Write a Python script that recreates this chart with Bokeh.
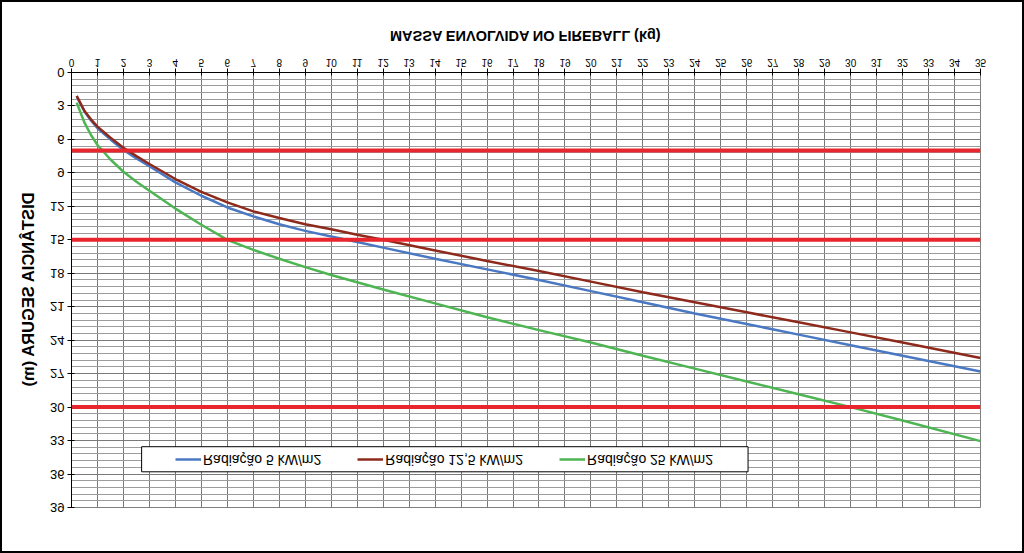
from bokeh.plotting import figure
from bokeh.models import Range1d, FixedTicker, Span, Legend, LegendItem
from bokeh.embed import file_html
from bokeh.resources import INLINE

# ---- data ----
mass = [0.2, 0.5, 0.75, 1, 1.5, 2, 2.5, 3, 4, 5, 6, 7, 8, 9, 10, 11, 12, 14, 16, 18, 20, 22, 24, 26, 28, 30, 32, 35]
dist_5 = [2.15, 3.5, 4.3, 5.0, 6.0, 6.95, 7.7, 8.4, 9.85, 11.05, 12.1, 12.9, 13.6, 14.2, 14.7, 15.2, 15.7,
          16.7, 17.65, 18.6, 19.6, 20.6, 21.6, 22.55, 23.5, 24.45, 25.4, 26.8]
dist_12_5 = [2.1, 3.45, 4.2, 4.85, 5.85, 6.75, 7.5, 8.2, 9.55, 10.7, 11.65, 12.45, 13.05, 13.6, 14.05, 14.55, 15.0,
             15.95, 16.9, 17.8, 18.75, 19.7, 20.6, 21.5, 22.4, 23.3, 24.2, 25.6]
dist_25 = [2.7, 4.5, 5.6, 6.5, 7.8, 8.9, 9.8, 10.6, 12.2, 13.65, 15.0, 15.9, 16.7, 17.45, 18.15, 18.8, 19.45,
           20.7, 21.95, 23.1, 24.2, 25.4, 26.55, 27.7, 28.85, 30.0, 31.2, 33.05]
series_names = ["Radiação 5 kW/m2", "Radiação 12,5 kW/m2", "Radiação 25 kW/m2"]
series_colors = ["#4a78c2", "#8e2a1c", "#4db552"]
limit_levels = [7, 15, 30]
x_ticks = list(range(0, 36))
y_ticks = list(range(0, 40, 3))
y_minor = [round(0.6 * i, 1) for i in range(0, 66)]
legend_box_x = [2.7, 26.05]
legend_box_y = [33.55, 35.8]

FONT = "Liberation Sans"

p = figure(width=1024, height=553, output_backend="svg", toolbar_location=None,
           x_range=Range1d(0, 35), y_range=Range1d(0, 39),
           min_border_left=69, min_border_right=46, min_border_top=43, min_border_bottom=75,
           background_fill_color="white", border_fill_color="white")

p.outline_line_color = "#7f7f7f"
p.outline_line_width = 1

# grids
p.xgrid.ticker = FixedTicker(ticks=x_ticks)
p.xgrid.grid_line_color = "#7a7a7a"
p.xgrid.grid_line_width = 1
p.ygrid.ticker = FixedTicker(ticks=y_ticks, minor_ticks=y_minor)
p.ygrid.grid_line_color = "#7a7a7a"
p.ygrid.grid_line_width = 1
p.ygrid.minor_grid_line_color = "#9c9c9c"
p.ygrid.minor_grid_line_width = 1

# axes
p.xaxis.ticker = FixedTicker(ticks=x_ticks)
p.yaxis.ticker = FixedTicker(ticks=y_ticks)
for ax in (p.xaxis[0], p.yaxis[0]):
    ax.axis_line_color = "black"
    ax.major_tick_line_color = "black"
    ax.minor_tick_line_color = None
    ax.major_tick_out = 4
    ax.major_tick_in = 3
    ax.major_label_text_color = "black"
    ax.major_label_text_font = FONT
    ax.axis_label_text_font = FONT
    ax.axis_label_text_font_style = "bold"
    ax.axis_label_text_color = "black"

p.xaxis.major_label_text_font_size = "10px"
p.xaxis.major_label_standoff = 2
p.xaxis.axis_label = "MASSA ENVOLVIDA NO FIREBALL (kg)"
p.xaxis.axis_label_text_font_size = "14.5px"
p.xaxis.axis_label_standoff = 12

p.yaxis.major_label_text_font_size = "13px"
p.yaxis.major_label_standoff = 3
p.yaxis.axis_label = "DISTÂNCIA SEGURA (m)"
p.yaxis.axis_label_text_font_size = "16.5px"
p.yaxis.axis_label_standoff = 10

# limit lines
for lv in limit_levels:
    p.add_layout(Span(location=lv, dimension="width", line_color="#e8262d", line_width=4))

# legend box
p.quad(left=[legend_box_x[0]], right=[legend_box_x[1]], bottom=[legend_box_y[0]], top=[legend_box_y[1]],
       fill_color="white", line_color="black", line_width=1)

renderers = []
for ys, c in zip([dist_5, dist_12_5, dist_25], series_colors):
    r = p.line(mass, ys, line_color=c, line_width=2.5)
    renderers.append(r)

legend = Legend(items=[LegendItem(label=n, renderers=[r]) for n, r in zip(series_names, renderers)],
                orientation="horizontal", location=(104, 377), padding=0, margin=0,
                spacing=36, glyph_width=26, label_standoff=2,
                label_text_font=FONT, label_text_font_size="14px", label_text_color="black",
                background_fill_alpha=0, border_line_alpha=0)
p.add_layout(legend)

p.styles = {"transform": "scaleY(-1)", "border": "2px solid black"}

open("out.html", "w").write(file_html(p, INLINE))
